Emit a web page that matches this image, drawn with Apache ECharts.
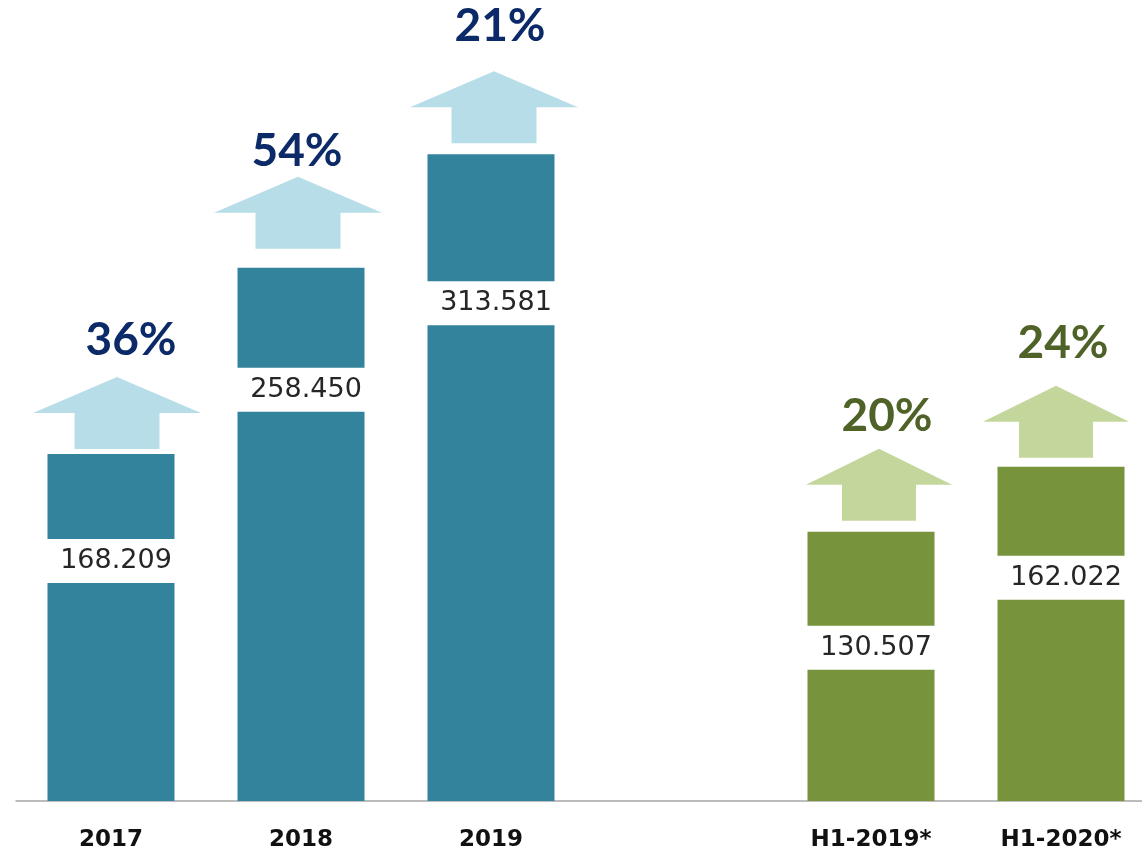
<!DOCTYPE html>
<html>
<head>
<meta charset="utf-8">
<script src="https://cdn.jsdelivr.net/npm/echarts@6/dist/echarts.min.js"></script>
<style>
  html, body { margin: 0; padding: 0; background: #fff; }
  #chart { width: 1142px; height: 851px; }
</style>
</head>
<body>
<div id="chart"></div>
<script>
// chart data
const categories = ['2017', '2018', '2019', '', 'H1-2019*', 'H1-2020*'];
const values = [168.209, 258.450, 313.581, null, 130.507, 162.022];
const growth = ['36%', '54%', '21%', null, '20%', '24%'];
const groups = ['year', 'year', 'year', null, 'half', 'half'];

// styling / layout tweaks per bar (pixels, relative to bar top)
const bandDrop = [107, 122, 149, null, 116, 111];
const arrowGap = [5, 19, 11, null, 11, 9];
const arrowDx = [6, -3, 3, null, 8, -5];
const pctGap = [20, 9, 28, null, 16, 26];
const pctDx = [20, -4, 9, null, 16, 2];

const colors = {
  year: { bar: '#32839B', arrow: '#B7DDE8', text: '#0D2A68', head: 168, shaft: 85 },
  half: { bar: '#77933C', arrow: '#C3D69B', text: '#4F6228', head: 146, shaft: 74 }
};
const barWidth = 127;

var chart = echarts.init(document.getElementById('chart'));

var barData = values.map(function (v, i) {
  if (v == null) return null;
  return { value: v, itemStyle: { color: colors[groups[i]].bar } };
});

var overlayData = [];
for (var i = 0; i < values.length; i++) {
  if (values[i] != null) overlayData.push([i, values[i]]);
}

function renderOverlay(params, api) {
  var i = api.value(0);
  var top = api.coord([i, api.value(1)]);
  var c = colors[groups[i]];
  var cx = top[0] + arrowDx[i];
  var tipY = top[1] - arrowGap[i] - 72;
  var hw = c.head / 2, sw = c.shaft / 2;
  var bandY = top[1] + bandDrop[i];
  return {
    type: 'group',
    children: [
      {
        type: 'polygon',
        shape: {
          points: [
            [cx, tipY], [cx + hw, tipY + 36], [cx + sw, tipY + 36], [cx + sw, tipY + 72],
            [cx - sw, tipY + 72], [cx - sw, tipY + 36], [cx - hw, tipY + 36]
          ]
        },
        style: { fill: c.arrow }
      },
      {
        type: 'text',
        x: top[0] + pctDx[i],
        y: tipY - pctGap[i] + 6,
        style: {
          text: growth[i],
          fill: c.text,
          font: 'bold 46px Lato',
          align: 'center',
          verticalAlign: 'bottom'
        }
      },
      {
        type: 'rect',
        shape: { x: top[0] - barWidth / 2 - 1, y: bandY - 22, width: barWidth + 2, height: 44 },
        style: { fill: '#fff' }
      },
      {
        type: 'text',
        x: top[0] + 5,
        y: bandY,
        style: {
          text: values[i].toFixed(3),
          fill: '#262626',
          font: '27px "DejaVu Sans"',
          align: 'center',
          verticalAlign: 'middle'
        }
      }
    ]
  };
}

chart.setOption({
  animation: false,
  backgroundColor: '#fff',
  grid: { left: 16, width: 1140, top: 79, bottom: 50, containLabel: false, outerBoundsMode: 'none' },
  xAxis: {
    type: 'category',
    data: categories,
    axisTick: { show: false },
    axisLine: { lineStyle: { color: '#A6A6A6', width: 1.5 } },
    axisLabel: {
      margin: 28,
      color: '#111',
      fontFamily: 'DejaVu Sans',
      fontWeight: 'bold',
      fontSize: 23
    }
  },
  yAxis: {
    type: 'value',
    min: 0,
    max: 350,
    show: false,
    splitLine: { show: false }
  },
  series: [
    {
      type: 'bar',
      data: barData,
      barWidth: barWidth
    },
    {
      type: 'custom',
      data: overlayData,
      clip: false,
      z: 3,
      renderItem: renderOverlay
    }
  ]
});
</script>
</body>
</html>
